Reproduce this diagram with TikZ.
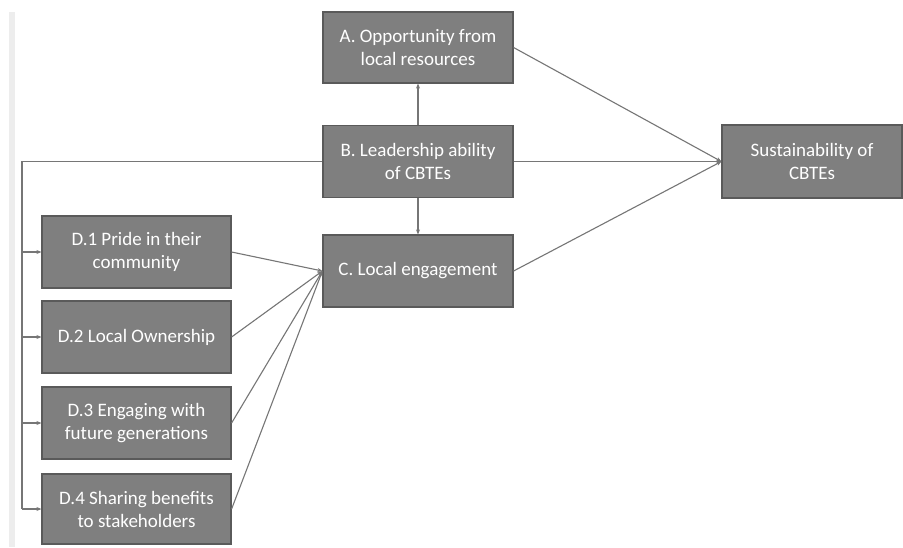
\documentclass[tikz,border=0pt]{standalone}
\usepackage{fontspec}
\setmainfont{Carlito}
\usetikzlibrary{arrows.meta}
\definecolor{boxfill}{HTML}{7F7F7F}
\definecolor{boxline}{HTML}{5A5A5A}
\definecolor{wire}{HTML}{767676}
\definecolor{edge}{HTML}{EDEDED}
\begin{document}
\begin{tikzpicture}[x=1pt,y=-1pt,
  box/.style={draw=boxline,line width=1.2pt,fill=boxfill,text=white,
    minimum width=190pt,minimum height=72pt,align=center,inner sep=2pt,
    font=\fontsize{19}{23}\selectfont},
  link/.style={draw=wire,line width=1.1pt,-{Stealth[length=5pt,width=4pt]}}]
\useasboundingbox (0,0) rectangle (903,547);
\fill[white] (0,0) rectangle (903,547);
\fill[edge] (9,12) rectangle (15,547);

\node[box,minimum height=71pt] (A) at (418,47.5) {A. Opportunity from\\local resources};
\node[box] (B) at (418,161.5) {B. Leadership ability\\of CBTEs};
\node[box] (C) at (418,271) {C. Local engagement};
\node[box,minimum width=180pt,minimum height=73pt] (S) at (812,161.5) {Sustainability of\\CBTEs};
\node[box,minimum width=189pt] (D1) at (136.5,252) {D.1 Pride in their\\community};
\node[box,minimum width=189pt] (D2) at (136.5,337) {D.2 Local Ownership};
\node[box,minimum width=189pt] (D3) at (136.5,423) {D.3 Engaging with\\future generations};
\node[box,minimum width=189pt,minimum height=70pt] (D4) at (136.5,509) {D.4 Sharing benefits\\to stakeholders};

\coordinate (trunk) at (22,0);

\draw[link] (B) -- (A);
\draw[link] (B) -- (C);
\draw[link] (A.east) -- (S.west);
\draw[link] (B.east) -- (S.west);
\draw[link] (C.east) -- (S.west);
\foreach \d in {D1,D2,D3,D4} {
  \draw[link] (\d.east) -- (C.west);
}
\draw[draw=wire,line width=1.1pt] (B.west) -- (trunk |- B.west) -- (trunk |- D4.west);
\foreach \d in {D1,D2,D3,D4} {
  \draw[link] (trunk |- \d.west) -- (\d.west);
}
\end{tikzpicture}
\end{document}
